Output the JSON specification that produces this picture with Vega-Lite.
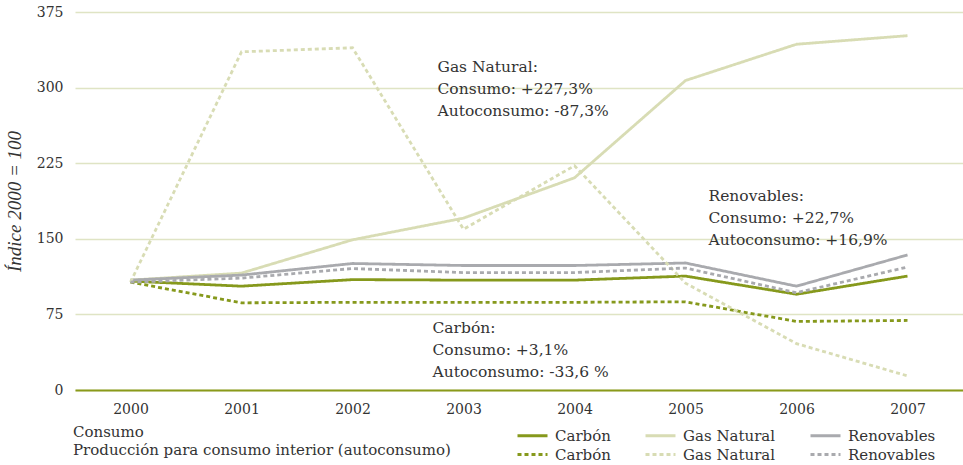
{
  "$schema": "https://vega.github.io/schema/vega-lite/v6.json",
  "width": 888,
  "height": 378,
  "autosize": {"type": "none"},
  "padding": {"left": 75, "top": 12, "right": 0, "bottom": 75},
  "background": "white",
  "config": {
    "view": {"stroke": null},
    "font": "DejaVu Serif",
    "text": {"font": "DejaVu Serif", "fontSize": 15, "color": "#333333"}
  },
  "datasets": {
    "series": [
      {"year": "2000", "serie": "C|Carbón", "value": 108},
      {"year": "2001", "serie": "C|Carbón", "value": 103},
      {"year": "2002", "serie": "C|Carbón", "value": 109.5},
      {"year": "2003", "serie": "C|Carbón", "value": 109},
      {"year": "2004", "serie": "C|Carbón", "value": 109},
      {"year": "2005", "serie": "C|Carbón", "value": 113},
      {"year": "2006", "serie": "C|Carbón", "value": 95},
      {"year": "2007", "serie": "C|Carbón", "value": 113},
      {"year": "2000", "serie": "C|Gas Natural", "value": 109},
      {"year": "2001", "serie": "C|Gas Natural", "value": 116},
      {"year": "2002", "serie": "C|Gas Natural", "value": 149},
      {"year": "2003", "serie": "C|Gas Natural", "value": 170.5},
      {"year": "2004", "serie": "C|Gas Natural", "value": 210.5},
      {"year": "2005", "serie": "C|Gas Natural", "value": 307},
      {"year": "2006", "serie": "C|Gas Natural", "value": 343},
      {"year": "2007", "serie": "C|Gas Natural", "value": 351.5},
      {"year": "2000", "serie": "C|Renovables", "value": 109},
      {"year": "2001", "serie": "C|Renovables", "value": 114},
      {"year": "2002", "serie": "C|Renovables", "value": 125.5},
      {"year": "2003", "serie": "C|Renovables", "value": 123.5},
      {"year": "2004", "serie": "C|Renovables", "value": 123.5},
      {"year": "2005", "serie": "C|Renovables", "value": 126},
      {"year": "2006", "serie": "C|Renovables", "value": 103},
      {"year": "2007", "serie": "C|Renovables", "value": 134},
      {"year": "2000", "serie": "A|Carbón", "value": 107},
      {"year": "2001", "serie": "A|Carbón", "value": 86.5},
      {"year": "2002", "serie": "A|Carbón", "value": 87},
      {"year": "2003", "serie": "A|Carbón", "value": 87},
      {"year": "2004", "serie": "A|Carbón", "value": 87},
      {"year": "2005", "serie": "A|Carbón", "value": 87.5},
      {"year": "2006", "serie": "A|Carbón", "value": 68},
      {"year": "2007", "serie": "A|Carbón", "value": 69},
      {"year": "2000", "serie": "A|Gas Natural", "value": 107},
      {"year": "2001", "serie": "A|Gas Natural", "value": 335.5},
      {"year": "2002", "serie": "A|Gas Natural", "value": 339.5},
      {"year": "2003", "serie": "A|Gas Natural", "value": 159.5},
      {"year": "2004", "serie": "A|Gas Natural", "value": 222.5},
      {"year": "2005", "serie": "A|Gas Natural", "value": 106},
      {"year": "2006", "serie": "A|Gas Natural", "value": 46},
      {"year": "2007", "serie": "A|Gas Natural", "value": 14},
      {"year": "2000", "serie": "A|Renovables", "value": 107},
      {"year": "2001", "serie": "A|Renovables", "value": 111},
      {"year": "2002", "serie": "A|Renovables", "value": 120.5},
      {"year": "2003", "serie": "A|Renovables", "value": 116.5},
      {"year": "2004", "serie": "A|Renovables", "value": 116.5},
      {"year": "2005", "serie": "A|Renovables", "value": 121},
      {"year": "2006", "serie": "A|Renovables", "value": 96.5},
      {"year": "2007", "serie": "A|Renovables", "value": 122}
    ]
  },
  "encoding": {
    "x": {
      "field": "year", "type": "ordinal",
      "scale": {"type": "point", "padding": 0.5, "domain": ["2000","2001","2002","2003","2004","2005","2006","2007"]},
      "axis": {
        "title": null, "labelAngle": 0, "ticks": false, "tickSize": 0,
        "domainColor": "#8a9a1a", "domainWidth": 2,
        "labelFont": "DejaVu Serif", "labelFontSize": 14, "labelColor": "#333333",
        "labelPadding": 12, "grid": false
      }
    },
    "y": {
      "field": "value", "type": "quantitative",
      "scale": {"domain": [0, 375], "nice": false, "zero": true},
      "axis": {
        "values": [0, 75, 150, 225, 300, 375],
        "title": "Índice 2000 = 100",
        "titleFont": "Liberation Serif", "titleFontStyle": "italic", "titleFontWeight": "normal",
        "titleFontSize": 19, "titleColor": "#333333", "titlePadding": 12,
        "labelFont": "DejaVu Serif", "labelFontSize": 14, "labelColor": "#333333",
        "labelPadding": 12, "ticks": false, "tickSize": 0, "domain": false,
        "grid": true, "gridColor": "#dfe4c4", "gridWidth": 1.5
      }
    }
  },
  "layer": [
    {
      "data": {"name": "series"},
      "mark": {"type": "line", "strokeWidth": 2.8},
      "encoding": {
        "color": {
          "field": "serie", "type": "nominal",
          "scale": {
            "domain": ["C|Carbón", "C|Gas Natural", "C|Renovables", "A|Carbón", "A|Gas Natural", "A|Renovables"],
            "range": ["#86991c", "#d8dcb4", "#a9aaae", "#86991c", "#d8dcb4", "#a9aaae"]
          },
          "legend": {
            "orient": "none", "legendX": -2, "legendY": 413,
            "direction": "horizontal", "columns": 3,
            "title": ["Consumo", "Producción para consumo interior (autoconsumo)"],
            "titleOrient": "left", "titleAnchor": "start", "titleBaseline": "top",
            "titleFont": "DejaVu Serif", "titleFontSize": 15, "titleFontWeight": "normal",
            "titleColor": "#333333", "titleLineHeight": 18, "titleLimit": 700, "titlePadding": 65,
            "symbolType": "M-1,0H2.333", "symbolSize": 324, "symbolStrokeWidth": 3,
            "labelExpr": "split(datum.label, '|')[1]",
            "labelFont": "DejaVu Serif", "labelFontSize": 15, "labelColor": "#333333",
            "labelOffset": 18, "labelLimit": 300,
            "rowPadding": -1, "columnPadding": 28
          }
        },
        "strokeDash": {
          "field": "serie", "type": "nominal",
          "scale": {
            "domain": ["C|Carbón", "C|Gas Natural", "C|Renovables", "A|Carbón", "A|Gas Natural", "A|Renovables"],
            "range": [[1, 0], [1, 0], [1, 0], [4, 3], [4, 3], [4, 3]]
          },
          "legend": null
        }
      }
    },
    {
      "mark": {"type": "rule", "stroke": "#222222", "strokeWidth": 3, "strokeDash": [4, 4]},
      "encoding": {"y": {"datum": 106}, "x": null}
    },
    {
      "data": {"values": [{"year": "2003", "value": 320, "label": "Gas Natural:\nConsumo: +227,3%\nAutoconsumo: -87,3%"}]},
      "mark": {"type": "text", "align": "left", "baseline": "middle", "dx": -26, "lineBreak": "\n", "lineHeight": 22, "fontSize": 15.5},
      "encoding": {"text": {"field": "label"}}
    },
    {
      "data": {"values": [{"year": "2005", "value": 192.5, "label": "Renovables:\nConsumo: +22,7%\nAutoconsumo: +16,9%"}]},
      "mark": {"type": "text", "align": "left", "baseline": "middle", "dx": 23, "lineBreak": "\n", "lineHeight": 22, "fontSize": 15.5},
      "encoding": {"text": {"field": "label"}}
    },
    {
      "data": {"values": [{"year": "2003", "value": 61.5, "label": "Carbón:\nConsumo: +3,1%\nAutoconsumo: -33,6 %"}]},
      "mark": {"type": "text", "align": "left", "baseline": "middle", "dx": -31, "lineBreak": "\n", "lineHeight": 22, "fontSize": 15.5},
      "encoding": {"text": {"field": "label"}}
    }
  ]
}
